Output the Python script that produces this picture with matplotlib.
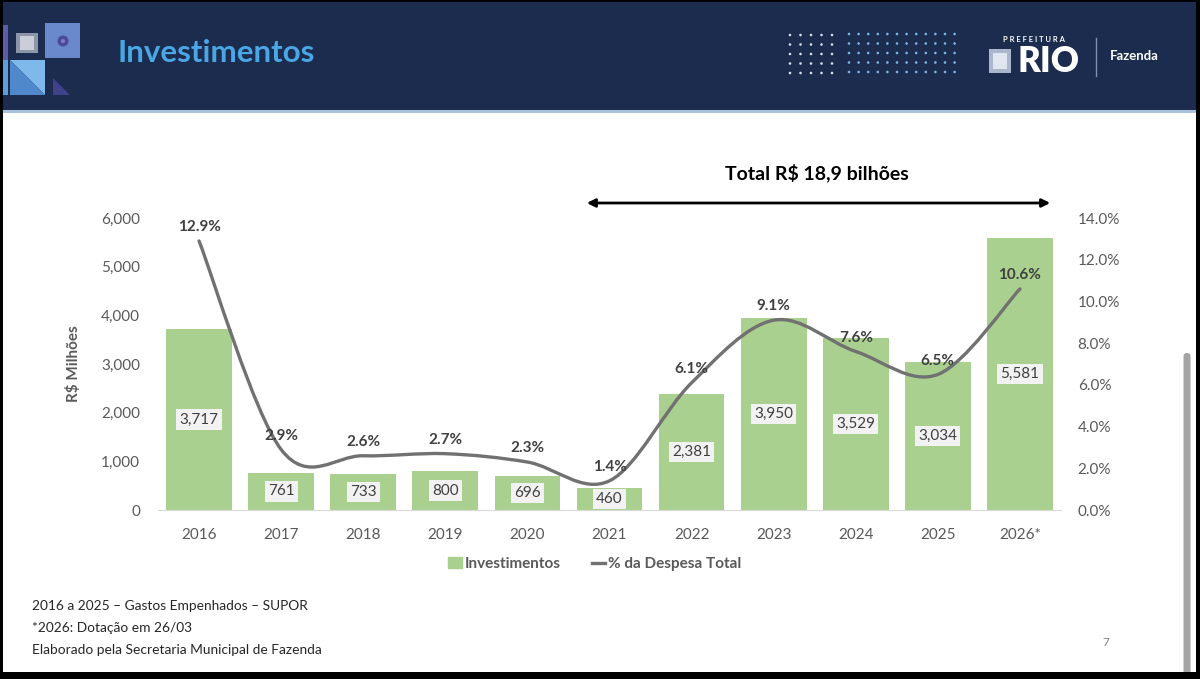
import matplotlib.pyplot as plt
import matplotlib.patches as mpatches
from matplotlib.path import Path
from matplotlib.lines import Line2D
from matplotlib.ticker import FuncFormatter
import numpy as np

plt.rcParams['font.family'] = ['Lato', 'DejaVu Sans']

# data
years = ['2016', '2017', '2018', '2019', '2020', '2021',
         '2022', '2023', '2024', '2025', '2026*']
invest = [3717, 761, 733, 800, 696, 460, 2381, 3950, 3529, 3034, 5581]
pct_despesa = [12.9, 2.9, 2.6, 2.7, 2.3, 1.4, 6.1, 9.1, 7.6, 6.5, 10.6]
notes = ['2016 a 2025 – Gastos Empenhados – SUPOR',
         '*2026: Dotação em 26/03',
         'Elaborado pela Secretaria Municipal de Fazenda']

NAVY = '#1b2c4e'
GREEN = '#a9d08e'
LINE = '#717171'
GRAY = '#595959'
DARK = '#404040'

W, H = 1200, 679
fig = plt.figure(figsize=(W / 100, H / 100), dpi=100)

# ---- slide decoration, in pixel coordinates
deco = fig.add_axes([0, 0, 1, 1])
deco.set_xlim(0, W)
deco.set_ylim(H, 0)
deco.axis('off')

def rect(x, y, w, h, c, **kw):
    deco.add_patch(mpatches.Rectangle((x, y), w, h, facecolor=c,
                                      edgecolor='none', **kw))

def poly(pts, c):
    deco.add_patch(mpatches.Polygon(pts, closed=True, facecolor=c,
                                    edgecolor='none'))

rect(0, 0, W, 111, NAVY)
rect(0, 110, W, 3, '#a8c2de')

# left logo blocks
rect(3, 25, 5, 35, '#5b5ba6')
rect(3, 60, 5, 35, '#5d9fdc')
rect(45, 23, 35, 35, '#6a89cc')
deco.add_patch(mpatches.Circle((63, 41), 5.5, facecolor='#4a4b9c', edgecolor='none'))
deco.add_patch(mpatches.Circle((63, 41), 2, facecolor='#7d7fc4', edgecolor='none'))
rect(16, 33, 22, 20, '#8c96a8')
rect(20, 36, 14, 14, '#c9ced8')
poly([(10, 60), (45, 60), (45, 95)], '#7fb8ea')
poly([(10, 60), (10, 95), (45, 95)], '#5088cc')
poly([(53, 78), (53, 95), (70, 95)], '#3f418a')

deco.text(117, 53, 'Investimentos', color='#4aa6e4', fontsize=22.5,
          fontweight='bold', va='center', ha='left')

# dot grids on the right
for gx in np.arange(5):
    for gy in np.arange(5):
        deco.add_patch(mpatches.Circle((790 + gx * 10.5, 35 + gy * 9.5), 1.3,
                                       facecolor='#d9dfeb', edgecolor='none'))
for gx in np.arange(12):
    for gy in np.arange(5):
        deco.add_patch(mpatches.Circle((849 + gx * 9.6, 34 + gy * 9.5), 1.3,
                                       facecolor='#7fb5e4', edgecolor='none'))

deco.text(1034, 40, 'P R E F E I T U R A', color='white', fontsize=5.5,
          fontweight='bold', ha='center', va='center')
rect(989, 49, 22, 24, '#a9b6cc')
rect(993, 53, 14, 16, '#dfe6f0')
deco.text(1048, 61, 'RIO', color='white', fontsize=25, fontweight='heavy',
          ha='center', va='center')
deco.plot([1096, 1096], [38, 76], color='#8090ad', lw=1)
deco.text(1110, 56, 'Fazenda', color='white', fontsize=9.5,
          fontweight='bold', ha='left', va='center')

# "total" annotation with double arrow
deco.text(817, 173, 'Total R$ 18,9 bilhões', color='black', fontsize=14,
          fontweight='bold', ha='center', va='center')
deco.annotate('', xy=(1053, 203), xytext=(584, 203),
              arrowprops=dict(arrowstyle='<|-|>', color='black', lw=2,
                              mutation_scale=12))

# footnotes and page number
for i, t in enumerate(notes):
    deco.text(32, 606 + i * 22, t, color='#262626', fontsize=9.9,
              ha='left', va='center')
deco.text(1106, 643, '7', color='#7f7f7f', fontsize=8.5, ha='center', va='center')

# scrollbar and black frame
deco.add_patch(mpatches.FancyBboxPatch((1183.5, 353), 7, 330,
                                       boxstyle='round,pad=0,rounding_size=3.5',
                                       facecolor='#a3a3a3', edgecolor='none'))
rect(0, 0, W, 2, 'black')
rect(0, 0, 3, H, 'black')
rect(1196, 0, 4, H, 'black')
rect(0, 672, W, 7, 'black')

# ---- chart
x0, x1 = 158, 1061
ytop, ybot = 218, 510
ax = fig.add_axes([x0 / W, (H - ybot) / H, (x1 - x0) / W, (ybot - ytop) / H])
ax.patch.set_alpha(0)
x = np.arange(len(years))
bars = ax.bar(x, invest, width=0.8, color=GREEN, zorder=2,
              label='Investimentos')
ax.set_xlim(-0.5, len(years) - 0.5)
ax.set_ylim(0, 6000)
ax.set_yticks(np.arange(0, 6001, 1000))
ax.yaxis.set_major_formatter(FuncFormatter(lambda v, p: f'{int(v):,}'))
ax.set_xticks(x)
ax.set_xticklabels(years)
ax.tick_params(axis='both', length=0, labelsize=11, labelcolor=GRAY)
ax.tick_params(axis='y', pad=13)
ax.tick_params(axis='x', pad=13)
for s in ['top', 'right', 'left']:
    ax.spines[s].set_visible(False)
ax.spines['bottom'].set_color('#d9d9d9')
ax.set_ylabel('R$ Milhões', fontsize=11, fontweight='bold', color=GRAY,
              labelpad=14)

for xi, v in zip(x, invest):
    ax.text(xi, v / 2, f'{v:,}', ha='center', va='center', fontsize=11,
            color=DARK, zorder=4,
            bbox=dict(boxstyle='square,pad=0.2', facecolor='#f2f2f2',
                      edgecolor='none'))

ax2 = ax.twinx()
ax2.set_ylim(0, 14)
ax2.set_yticks(np.arange(0, 14.1, 2))
ax2.yaxis.set_major_formatter(FuncFormatter(lambda v, p: f'{v:.1f}%'))
ax2.tick_params(axis='y', length=0, labelsize=11, labelcolor=GRAY, pad=12)
for s in ax2.spines.values():
    s.set_visible(False)

# smoothed line (Excel-style bezier through the points)
pts = np.column_stack([x, pct_despesa]).astype(float)
verts = [pts[0]]
codes = [Path.MOVETO]
n = len(pts)
for i in range(n - 1):
    p_prev = pts[max(i - 1, 0)]
    p_next2 = pts[min(i + 2, n - 1)]
    c1 = pts[i] + (pts[i + 1] - p_prev) / 6
    c2 = pts[i + 1] - (p_next2 - pts[i]) / 6
    verts += [c1, c2, pts[i + 1]]
    codes += [Path.CURVE4] * 3
ax2.add_patch(mpatches.PathPatch(Path(verts, codes), facecolor='none',
                                 edgecolor=LINE, lw=2.4, zorder=3,
                                 capstyle='round'))

for xi, v in zip(x, pct_despesa):
    ax2.annotate(f'{v:.1f}%', (xi, v), xytext=(0, 10),
                 textcoords='offset points', ha='center', va='center',
                 fontsize=11, fontweight='bold', color=DARK, zorder=5)

handles = [mpatches.Patch(color=GREEN, label='Investimentos'),
           Line2D([], [], color=LINE, lw=2.4, label='% da Despesa Total')]
fig.legend(handles=handles, loc='center', bbox_to_anchor=(595 / W, 1 - 564 / H),
           ncol=2, frameon=False, handlelength=0.9, handletextpad=0.2,
           columnspacing=2.0, prop={'size': 11, 'weight': 'bold'},
           labelcolor=GRAY)

fig.savefig('out.png', dpi=100)
